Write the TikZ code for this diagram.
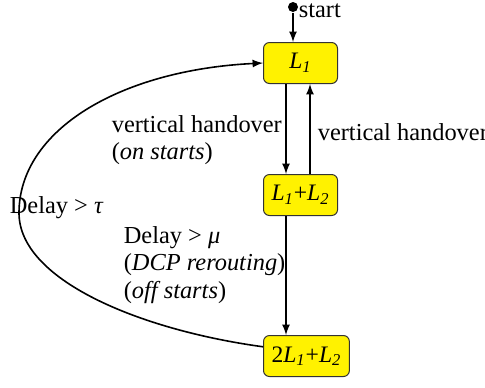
\documentclass[tikz,border=0pt]{standalone}
\usepackage{fontspec}
\setmainfont{Liberation Serif}
\newcommand{\Lsub}[1]{\textit{L}\textsubscript{\textit{#1}}}
\begin{document}
\begin{tikzpicture}[>=latex, x=0.5pt, y=-0.5pt, line width=0.8pt,
  state/.style={draw=black!80, line width=0.5pt, fill=yellow, rounded corners=3pt,
    anchor=west, minimum width=37pt, minimum height=20.5pt, inner xsep=4pt,
    font=\fontsize{11.8}{13}\selectfont},
  txt/.style={anchor=west, align=left, inner sep=0pt, font=\fontsize{12.2}{13.6}\selectfont}]
\useasboundingbox (0,0) rectangle (485,387);
\node[state] (l1) at (263,63) {\Lsub{1}};
\node[state] (l12) at (263,195) {\Lsub{1}+\Lsub{2}};
\node[state] (l3) at (263,356) {2\Lsub{1}+\Lsub{2}};
\node[circle, fill, inner sep=0pt, minimum size=5pt] (start) at (293,7) {};
\node[txt] at (298,11) {start};
\coordinate (dn) at (286,0);
\coordinate (up) at (310,0);
\draw[->] (start) -- (l1.north -| start);
\draw[->] (l1.south -| dn) -- (l12.north -| dn);
\draw[->] (l12.north -| up) -- (l1.south -| up);
\draw[->] (l12.south -| dn) -- (l3.north -| dn);
\draw[->] (l3.168) .. controls (140,330) and (19,280) .. (19,213)
  .. controls (19,130) and (120,70) .. (l1.west);
\node[txt] at (111,140) {vertical handover\\(\textit{on starts})};
\node[txt] at (317,132) {vertical handover};
\node[txt] at (9,208) {Delay > \textit{τ}};
\node[txt] at (123,265) {Delay > \textit{μ}\\(\textit{DCP rerouting})\\(\textit{off starts})};
\end{tikzpicture}
\end{document}
